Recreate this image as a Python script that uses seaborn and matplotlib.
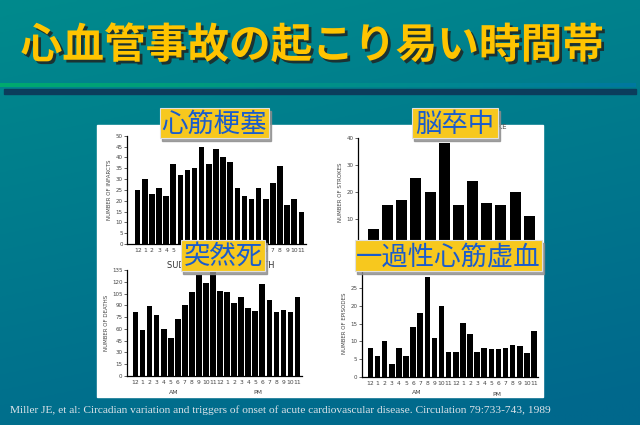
import numpy as np
import pandas as pd
import seaborn as sns
import matplotlib.pyplot as plt
import matplotlib.patheffects as pe
from matplotlib.patches import Rectangle

# data
hours24 = ["12", "1", "2", "3", "4", "5", "6", "7", "8", "9", "10", "11"] * 2
hours12 = ["12", "2", "4", "6", "8", "10"] * 2

infarcts = [25, 30, 23, 26, 22, 37, 32, 34, 35, 45, 37, 44,
            40, 38, 26, 22, 21, 26, 21, 28, 36, 18, 21, 15]
strokes = [6, 15, 17, 25, 20, 38, 15, 24, 16, 15, 20, 11]
deaths = [82, 58, 89, 78, 60, 49, 72, 90, 107, 128, 119, 133,
          108, 107, 93, 101, 86, 83, 117, 97, 82, 84, 81, 100]
episodes = [8, 6, 10, 3.7, 8, 5.8, 14, 18, 28, 11, 20, 7,
            7, 15.2, 12, 7, 8, 7.8, 7.8, 8, 9.1, 8.8, 6.7, 13]

title = "心血管事故の起こり易い時間帯"
labels = ["心筋梗塞", "脳卒中", "突然死", "一過性心筋虚血"]
footnote = ("Miller JE, et al: Circadian variation and triggers of onset of acute "
            "cardiovascular disease. Circulation 79:733-743, 1989")

sns.set_style("white")
plt.rcParams['font.family'] = ['Noto Sans CJK JP', 'DejaVu Sans']

W, H = 640, 425
fig = plt.figure(figsize=(6.4, 4.25), dpi=100)

# background layer in pixel coordinates
bg = fig.add_axes([0, 0, 1, 1])
bg.set_xlim(0, W)
bg.set_ylim(H, 0)
bg.axis("off")
bg.set_zorder(0)
t = np.linspace(0, 1, 200)[:, None]
s = np.linspace(0, 1, 200)[None, :]
top = np.array([0, 138, 140]) / 255
bot = np.array([0, 104, 140]) / 255
mix = np.clip(0.8 * t + 0.25 * s, 0, 1)[..., None]
grad = top * (1 - mix) + bot * mix
bg.imshow(grad, extent=[0, W, H, 0], aspect="auto")

# lines under the title
line = np.linspace(0, 1, 200)[None, :, None]
green = np.array([0, 170, 110]) / 255
blue = np.array([0, 120, 160]) / 255
bg.imshow(green * (1 - line) + blue * line, extent=[0, 636, 87, 83], aspect="auto")
bg.add_patch(Rectangle((4, 89), 632, 5, color="#0b3d5c"))

bg.text(312, 46, title, fontsize=30, fontweight="bold", color="#ffc400",
        ha="center", va="center",
        path_effects=[pe.withSimplePatchShadow(offset=(2, -2), shadow_rgbFace="#1e2a2a", alpha=0.9)])

bg.add_patch(Rectangle((97, 125), 446, 272, color="white"))
bg.text(10, 410, footnote, fontsize=8.2, color="#dde4ea", family="Liberation Serif",
        ha="left", va="center")
bg.text(221, 266, "SUDDEN CARDIAC DEATH", fontsize=6, color="#333333",
        ha="center", va="center", family="DejaVu Sans")
bg.text(507, 127, "STROKE", fontsize=5, color="#555555",
        ha="right", va="center", family="DejaVu Sans")
for x, y, txt in [(174, 392, "AM"), (258, 393, "PM"), (417, 393, "AM"), (497, 394, "PM")]:
    bg.text(x, y, txt, fontsize=4.5, color="#444444", ha="center", va="center",
            family="DejaVu Sans")


def chart(px, values, ticks, xlim, ylim, yticks, ylabel, hidden=()):
    x0, y0, x1, y1 = px
    ax = fig.add_axes([x0 / W, 1 - y1 / H, (x1 - x0) / W, (y1 - y0) / H])
    ax.set_zorder(1)
    df = pd.DataFrame({"pos": np.arange(len(values)), "n": values})
    sns.barplot(data=df, x="pos", y="n", ax=ax, color="black", saturation=1,
                width=0.78, linewidth=0)
    ax.set_xlim(*xlim)
    ax.set_ylim(*ylim)
    ax.set_yticks(yticks)
    ax.set_xticks(np.arange(len(values)))
    # tick labels that sit under the yellow boxes are left out
    ax.set_xticklabels(["" if i in hidden else tk for i, tk in enumerate(ticks)])
    ax.patch.set_alpha(0)
    for side in ["top", "right"]:
        ax.spines[side].set_visible(False)
    for side in ["left", "bottom"]:
        ax.spines[side].set_color("black")
        ax.spines[side].set_linewidth(0.9)
    ax.tick_params(axis="y", length=2, width=0.5, labelsize=4, pad=1,
                   labelcolor="#444444", left=True)
    ax.tick_params(axis="x", length=0, labelsize=4.3, pad=3, labelcolor="#444444")
    for lab in ax.get_xticklabels() + ax.get_yticklabels():
        lab.set_family("DejaVu Sans")
    ax.set_xlabel("")
    ax.set_ylabel(ylabel, fontsize=4, color="#444444", labelpad=2.5, family="DejaVu Sans")
    return ax


chart((127, 135.7, 305.6, 244), infarcts, hours24, (-1.5, 23.6), (0, 50),
      range(0, 51, 5), "NUMBER OF INFARCTS", hidden=range(6, 18))
ax2 = chart((358, 138, 537.8, 245.6), strokes, hours12, (-1.08, 11.6), (0, 40),
            range(0, 41, 10), "NUMBER OF STROKES", hidden=range(12))
ax2.set_yticks(range(10, 41, 10))
chart((126.7, 270, 301.6, 376), deaths, hours24, (-1.27, 23.6), (0, 135),
      range(0, 136, 15), "NUMBER OF DEATHS")
chart((361.7, 270, 537.6, 377), episodes, hours24, (-1.22, 23.5), (0, 30),
      range(0, 26, 5), "NUMBER OF EPISODES")

# yellow label boxes on top
ov = fig.add_axes([0, 0, 1, 1])
ov.set_xlim(0, W)
ov.set_ylim(H, 0)
ov.axis("off")
ov.set_zorder(2)
ov.patch.set_alpha(0)
boxes = [(160, 108, 109, 30), (412, 108, 86, 30), (181, 240, 84, 31), (355, 240, 187, 31)]
for (bx, by, bw, bh), txt in zip(boxes, labels):
    ov.add_patch(Rectangle((bx + 2, by + 3), bw, bh, color="#8c8c8c", alpha=0.8))
    ov.add_patch(Rectangle((bx, by), bw, bh, facecolor="#f7c81e", edgecolor="#e0e0e0", linewidth=0.8))
    ov.text(bx + bw / 2, by + bh / 2 + 1, txt, fontsize=19, color="#1a5ccc",
            ha="center", va="center")

fig.savefig("out.png", dpi=100)
